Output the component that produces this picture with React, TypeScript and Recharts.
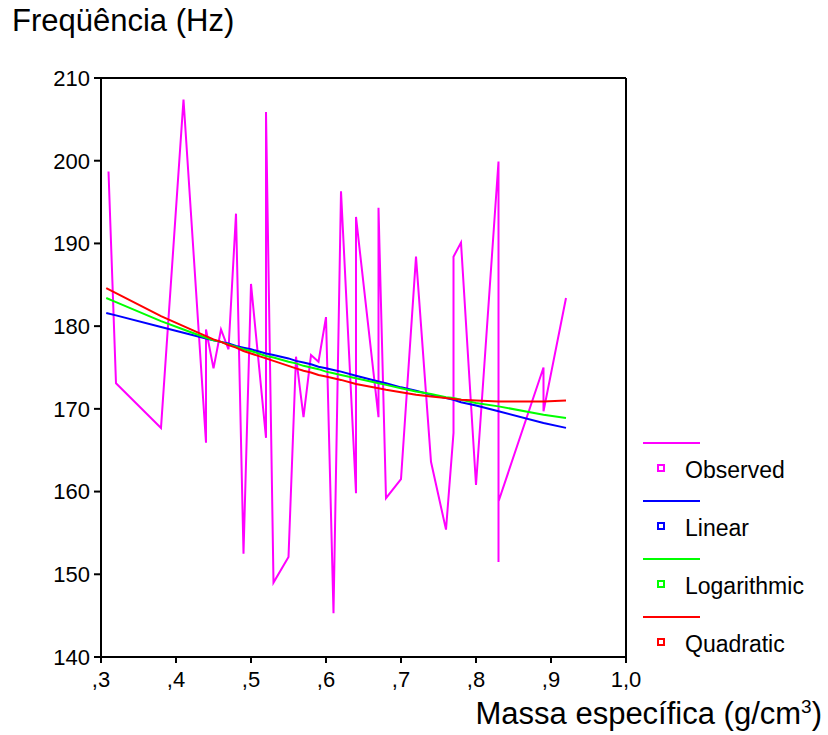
import React from "react";
import { LineChart, Line, XAxis, YAxis, ReferenceLine, Legend } from "recharts";

const observedX = [0.31, 0.32, 0.38, 0.41, 0.44, 0.44, 0.45, 0.46, 0.47, 0.48, 0.49, 0.5, 0.52, 0.52, 0.53, 0.55, 0.56, 0.57, 0.58, 0.59, 0.6, 0.61, 0.62, 0.64, 0.64, 0.67, 0.67, 0.68, 0.7, 0.72, 0.74, 0.76, 0.77, 0.77, 0.78, 0.8, 0.83, 0.83, 0.83, 0.83, 0.89, 0.89, 0.92];
const observedY = [198.7, 173.1, 167.7, 207.4, 165.9, 179.6, 174.9, 179.6, 177.2, 193.6, 152.5, 185.1, 166.5, 205.9, 149.0, 152.1, 176.3, 169.0, 176.5, 175.7, 181.1, 145.3, 196.3, 159.8, 193.2, 169.0, 194.3, 159.2, 161.5, 188.4, 163.6, 155.4, 167.1, 188.4, 190.1, 160.8, 199.9, 151.5, 166.0, 158.8, 175.0, 169.7, 183.4];

const fitX = [0.307, 0.32, 0.38, 0.41, 0.44, 0.45, 0.46, 0.47, 0.48, 0.49, 0.5, 0.52, 0.53, 0.55, 0.56, 0.57, 0.58, 0.59, 0.6, 0.61, 0.62, 0.64, 0.67, 0.68, 0.7, 0.72, 0.74, 0.76, 0.77, 0.78, 0.8, 0.83, 0.89, 0.92];
const linearY = [181.6, 181.3, 179.9, 179.2, 178.5, 178.3, 178.1, 177.9, 177.6, 177.4, 177.2, 176.7, 176.5, 176.1, 175.8, 175.6, 175.4, 175.1, 174.9, 174.7, 174.5, 174.0, 173.3, 173.1, 172.6, 172.2, 171.7, 171.3, 171.1, 170.8, 170.4, 169.7, 168.3, 167.7];
const logY = [183.4, 182.9, 180.6, 179.6, 178.6, 178.3, 178.1, 177.8, 177.5, 177.2, 177.0, 176.4, 176.2, 175.7, 175.5, 175.2, 175.0, 174.8, 174.5, 174.3, 174.1, 173.7, 173.1, 172.9, 172.5, 172.1, 171.8, 171.4, 171.3, 171.1, 170.7, 170.3, 169.3, 168.9];
const quadY = [184.6, 184.0, 181.2, 180.0, 178.8, 178.4, 178.1, 177.7, 177.4, 177.0, 176.7, 176.1, 175.8, 175.2, 174.9, 174.6, 174.4, 174.1, 173.9, 173.7, 173.5, 173.0, 172.5, 172.3, 172.0, 171.7, 171.5, 171.3, 171.2, 171.1, 171.0, 170.9, 170.9, 171.0];

const xTicks = [0.3, 0.4, 0.5, 0.6, 0.7, 0.8, 0.9, 1.0];
const yTicks = [140, 150, 160, 170, 180, 190, 200, 210];

const seriesNames = ["Observed", "Linear", "Logarithmic", "Quadratic"];
const seriesColors = ["#FF00FF", "#0000FF", "#00FF00", "#FF0000"];

const obsData = observedX.map((x, i) => ({ x, y: observedY[i] }));
const linData = fitX.map((x, i) => ({ x, y: linearY[i] }));
const logData = fitX.map((x, i) => ({ x, y: logY[i] }));
const quadData = fitX.map((x, i) => ({ x, y: quadY[i] }));

const FONT = "'Liberation Sans', Arial, sans-serif";

const fmtX = (v: number) => (v >= 0.999 ? "1,0" : "," + Math.round(v * 10));

const renderLegend = () => (
  <div style={{ position: "relative", fontFamily: FONT, height: 0 }}>
    {seriesNames.map((n, i) => (
      <div key={n} style={{ position: "absolute", left: 0, top: i * 58, width: 180, height: 58 }}>
        <div style={{ position: "absolute", left: 0, top: 12, width: 57, height: 2, background: seriesColors[i] }} />
        <div style={{ position: "absolute", left: 14, top: 34, width: 4, height: 4, border: `2px solid ${seriesColors[i]}` }} />
        <div style={{ position: "absolute", left: 42, top: 27, fontSize: 23, color: "#000", lineHeight: "26px", whiteSpace: "nowrap" }}>{n}</div>
      </div>
    ))}
  </div>
);

export default function App() {
  return (
    <div style={{ position: "absolute", left: 0, top: 0, width: 828, height: 735, background: "#fff", fontFamily: FONT }}>
      <div style={{ position: "absolute", left: 12, top: 3, fontSize: 31, color: "#000", whiteSpace: "nowrap" }}>Freqüência (Hz)</div>
      <div style={{ position: "absolute", right: 6, top: 697, fontSize: 31, lineHeight: "34px", color: "#000", whiteSpace: "nowrap" }}>
        Massa específica (g/cm<sup style={{ fontSize: 19, lineHeight: 0 }}>3</sup>)
      </div>
      <LineChart width={828} height={735} data={obsData} margin={{ top: 78, right: 202, left: 41, bottom: 48 }}>
        <XAxis
          dataKey="x"
          type="number"
          domain={[0.3, 1.0]}
          ticks={xTicks}
          tickFormatter={fmtX}
          allowDataOverflow
          height={30}
          axisLine={{ stroke: "#000", strokeWidth: 2 }}
          tickLine={{ stroke: "#000", strokeWidth: 2 }}
          tickSize={6}
          tickMargin={8}
          tick={{ fill: "#000", fontSize: 22, fontFamily: FONT }}
        />
        <YAxis
          type="number"
          domain={[140, 210]}
          ticks={yTicks}
          allowDataOverflow
          width={60}
          axisLine={{ stroke: "#000", strokeWidth: 2 }}
          tickLine={{ stroke: "#000", strokeWidth: 2 }}
          tickSize={7}
          tickMargin={4}
          tick={{ fill: "#000", fontSize: 22, fontFamily: FONT }}
        />
        <ReferenceLine y={210} stroke="#000" strokeWidth={2} />
        <ReferenceLine x={1.0} stroke="#000" strokeWidth={2} />
        <Line data={obsData} dataKey="y" type="linear" stroke={seriesColors[0]} strokeWidth={2} dot={false} isAnimationActive={false} />
        <Line data={linData} dataKey="y" type="linear" stroke={seriesColors[1]} strokeWidth={2} dot={false} isAnimationActive={false} />
        <Line data={logData} dataKey="y" type="linear" stroke={seriesColors[2]} strokeWidth={2} dot={false} isAnimationActive={false} />
        <Line data={quadData} dataKey="y" type="linear" stroke={seriesColors[3]} strokeWidth={2} dot={false} isAnimationActive={false} />
        <Legend content={renderLegend} wrapperStyle={{ position: "absolute", left: 643, top: 430, width: 180, height: 0 }} />
      </LineChart>
    </div>
  );
}
